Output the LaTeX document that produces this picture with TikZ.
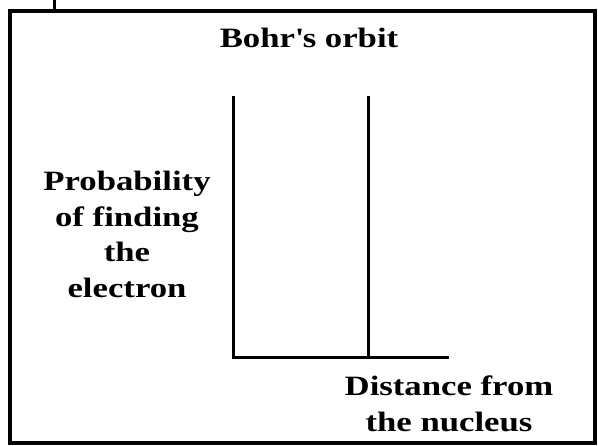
\documentclass[tikz,border=0pt]{standalone}
\usepackage{fontspec}
\newfontfamily\labelfont[FakeStretch=1.24]{Liberation Serif}
\usetikzlibrary{positioning}

\begin{document}
\begin{tikzpicture}[x=1pt, y=-1pt, line join=miter,
    every node/.style={font=\labelfont\bfseries\fontsize{28}{35.5}\selectfont, inner sep=0pt, align=center}]
    \useasboundingbox (0,0) rectangle (598,446);

    % Frame
    \draw[line width=3.2pt] (10,11) rectangle (595,443);
    \draw[line width=3pt] (54,0) -- (54,11);

    % Axes and orbit
    \coordinate (ytop) at (233,96);
    \coordinate (origin) at (233,358);
    \coordinate (xend) at (449,358);
    \coordinate (orbittop) at (368,96);
    \coordinate (orbitfoot) at (368,358);
    \draw[line width=3pt] (ytop) -- (origin) -- (xend);
    \draw[line width=3pt] (orbittop) -- (orbitfoot);

    % Labels
    \node[anchor=base] (title) at (309,48) {Bohr\textquotesingle s orbit};
    \node[anchor=north] (ylabel) at (127,171) {Probability\\of finding\\the\\electron};
    \node[anchor=north] (xlabel) at (449,376) {Distance from\\the nucleus};
\end{tikzpicture}
\end{document}
